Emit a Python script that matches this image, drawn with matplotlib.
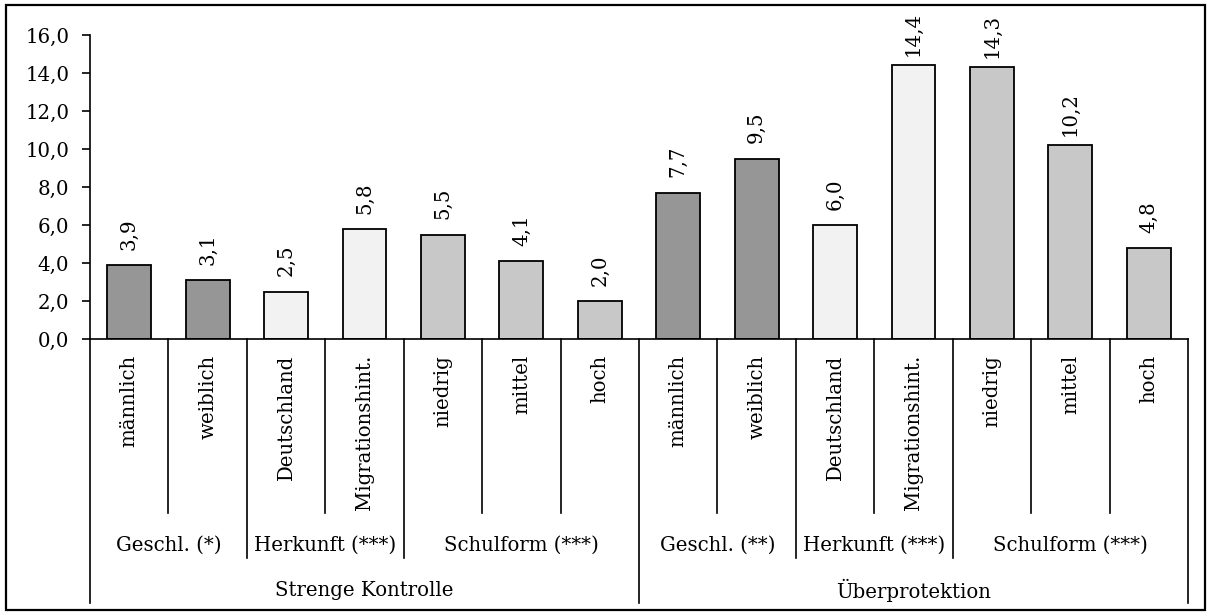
import matplotlib
matplotlib.use("Agg")
import matplotlib.pyplot as plt
from matplotlib.patches import Rectangle

# Werte in Prozent
kategorien = ["männlich", "weiblich", "Deutschland", "Migrationshint.",
              "niedrig", "mittel", "hoch"] * 2
strenge_kontrolle = [3.9, 3.1, 2.5, 5.8, 5.5, 4.1, 2.0]
ueberprotektion = [7.7, 9.5, 6.0, 14.4, 14.3, 10.2, 4.8]
werte = strenge_kontrolle + ueberprotektion

gruppen = ["Geschl. (*)", "Herkunft (***)", "Schulform (***)",
           "Geschl. (**)", "Herkunft (***)", "Schulform (***)"]
gruppen_groesse = [2, 2, 3, 2, 2, 3]
bereiche = ["Strenge Kontrolle", "Überprotektion"]

farbe_gruppe = ["#969696", "#f2f2f2", "#c8c8c8"] * 2

plt.rcParams["font.family"] = ["DejaVu Serif"]
plt.rcParams["font.size"] = 14.2

fig = plt.figure(figsize=(12.12, 6.15), dpi=100)
ax = fig.add_axes([90 / 1212, 1 - 339 / 615, 1098 / 1212, 304 / 615])

farben = []
for f, n in zip(farbe_gruppe, gruppen_groesse):
    farben += [f] * n

x = list(range(len(werte)))
ax.bar(x, werte, width=0.56, color=farben, edgecolor="black", linewidth=1.3)

for xi, v in zip(x, werte):
    ax.annotate(f"{v:.1f}".replace(".", ","), (xi, v), xytext=(0, 31),
                textcoords="offset pixels", rotation=90,
                ha="center", va="center")

ax.set_xlim(-0.5, len(werte) - 0.5)
ax.set_ylim(0, 16)
ax.set_yticks(range(0, 17, 2))
ax.set_yticklabels([f"{t:.1f}".replace(".", ",") for t in range(0, 17, 2)])
ax.tick_params(axis="y", direction="out", length=6, width=1.2, pad=9)
ax.set_xticks([])
for s in ["top", "right"]:
    ax.spines[s].set_visible(False)
for s in ["left", "bottom"]:
    ax.spines[s].set_linewidth(1.2)

tr = ax.get_xaxis_transform()

# Kategorienbeschriftung
for xi, k in zip(x, kategorien):
    ax.text(xi, -0.053, k, transform=tr, rotation=90,
            ha="center", va="top")

# Trennlinien der drei Ebenen
grenzen_gruppe = []
pos = 0
for n in gruppen_groesse:
    pos += n
    grenzen_gruppe.append(pos - 0.5)
grenzen_bereich = [-0.5, 6.5, 13.5]
for b in range(len(werte) + 1):
    xb = b - 0.5
    if xb in grenzen_bereich:
        unten = -0.868
    elif xb in grenzen_gruppe:
        unten = -0.720
    else:
        unten = -0.572
    ax.plot([xb, xb], [0, unten], transform=tr, color="black",
            lw=1.2, clip_on=False)

# Gruppenbeschriftung
start = 0
for g, n in zip(gruppen, gruppen_groesse):
    ax.text(start + (n - 1) / 2, -0.678, g, transform=tr,
            ha="center", va="center")
    start += n

for i, b in enumerate(bereiche):
    ax.text(i * 7 + 3, -0.826, b, transform=tr, ha="center", va="center")

fig.patches.append(Rectangle((6 / 1212, 5 / 615), 1199 / 1212, 605 / 615,
                             transform=fig.transFigure, fill=False,
                             edgecolor="black", linewidth=1.6))

fig.savefig("out.png", dpi=100)
